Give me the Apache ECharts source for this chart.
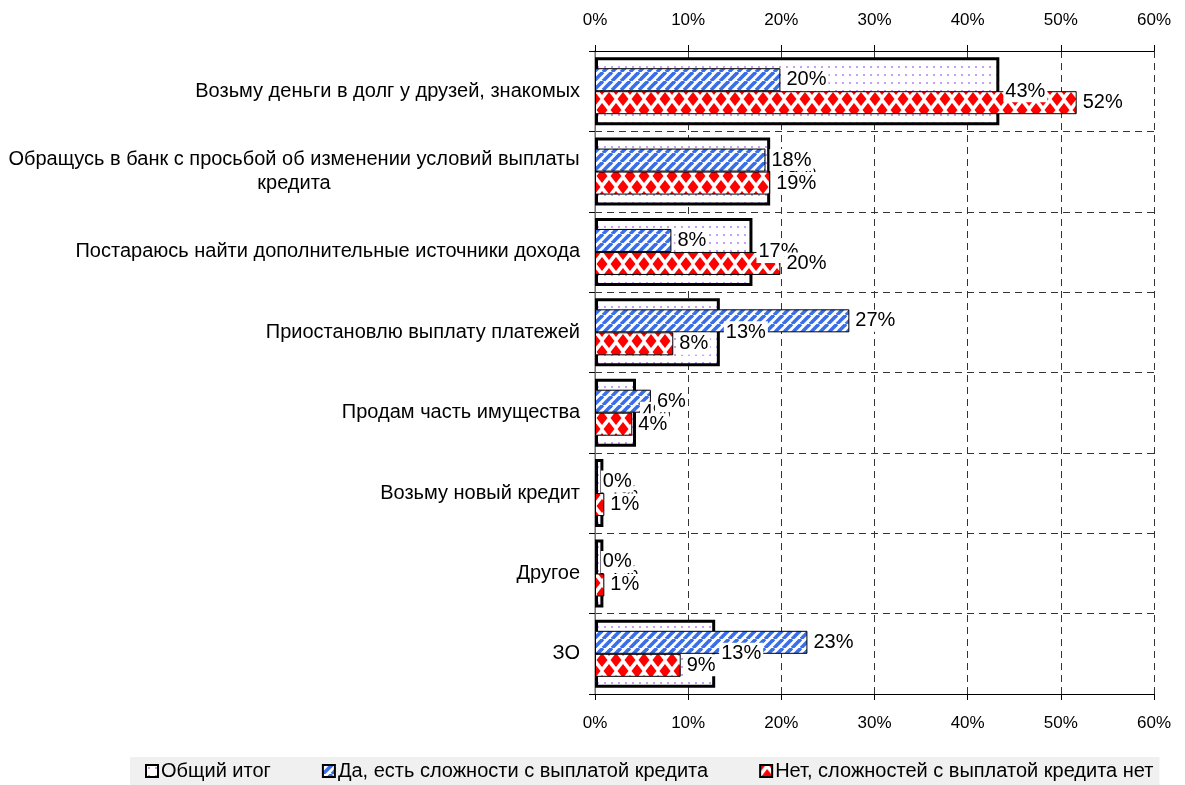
<!DOCTYPE html>
<html><head><meta charset="utf-8">
<script src="https://cdn.jsdelivr.net/npm/echarts@6/dist/echarts.min.js"></script>
<style>html,body{margin:0;padding:0;background:#fff}#c{width:1185px;height:785px}</style>
</head><body><div id="c"></div>
<script>
const categories = [
  'Возьму деньги в долг у друзей, знакомых',
  'Обращусь в банк с просьбой об изменении условий выплаты\nкредита',
  'Постараюсь найти дополнительные источники дохода',
  'Приостановлю выплату платежей',
  'Продам часть имущества',
  'Возьму новый кредит',
  'Другое',
  'ЗО'
];
const seriesNames = ['Общий итог', 'Да, есть сложности с выплатой кредита', 'Нет, сложностей с выплатой кредита нет'];
const totalValues = [43.4, 18.8, 16.9, 13.4, 4.4, 0.9, 0.9, 12.9];
const yesValues   = [19.9, 18.3, 8.2, 27.3, 6.0, 0.2, 0.2, 22.8];
const noValues    = [51.7, 18.8, 19.9, 8.4, 4.0, 1.0, 1.0, 9.2];
const xMin = 0, xMax = 60, xStep = 10;

const FONT = "'Liberation Sans',Arial,sans-serif";

function makePattern(w, h, draw) {
  const c = document.createElement('canvas');
  c.width = w; c.height = h;
  const g = c.getContext('2d');
  draw(g, w, h);
  return { image: c, repeat: 'repeat' };
}
const dotPattern = makePattern(7, 8, (g, w, h) => {
  g.fillStyle = '#ffffff'; g.fillRect(0, 0, w, h);
  g.fillStyle = '#c59ff2';
  g.fillRect(2, 2, 2, 2);
});
const stripePattern = makePattern(9, 9, (g, w, h) => {
  g.fillStyle = '#ffffff'; g.fillRect(0, 0, w, h);
  g.strokeStyle = '#3a6ee8'; g.lineWidth = 3.6;
  for (const o of [-w, 0, w]) {
    g.beginPath(); g.moveTo(o, h); g.lineTo(o + w, 0); g.stroke();
  }
});
const diamondPattern = makePattern(14, 22, (g, w, h) => {
  g.fillStyle = '#ffffff'; g.fillRect(0, 0, w, h);
  g.fillStyle = '#ff0000';
  const rx = 5.5, ry = 7;
  const d = (cx, cy) => { g.beginPath(); g.moveTo(cx, cy - ry); g.lineTo(cx + rx, cy); g.lineTo(cx, cy + ry); g.lineTo(cx - rx, cy); g.closePath(); g.fill(); };
  d(w / 2, h / 2); d(0, 0); d(w, 0); d(0, h); d(w, h);
});

const catFontSize = 20;
const mctx = document.createElement('canvas').getContext('2d');
mctx.font = catFontSize + 'px ' + FONT;
const catRich = { c: { align: 'center', fontSize: catFontSize, fontFamily: FONT, color: '#000', lineHeight: 24, width: 560 } };
function catFormatter(v) {
  if (v.indexOf('\n') < 0) return v;
  const lines = v.split('\n');
  const wMax = Math.max(...lines.map(l => mctx.measureText(l).width));
  catRich.c.width = Math.ceil(wMax);
  return lines.map(l => '{c|' + l + '}').join('\n');
}
categories.forEach(catFormatter);

const pct = p => Math.round(p.value) + '%';
const labelStyle = {
  show: true, position: 'right', distance: 4, formatter: pct,
  color: '#000', fontSize: 20, fontFamily: FONT,
  backgroundColor: '#ffffff', padding: [1, 2, 1, 2]
};

const catAxisBase = { type: 'category', data: categories, inverse: true, boundaryGap: true };

const option = {
  animation: false,
  backgroundColor: '#ffffff',
  textStyle: { fontFamily: FONT },
  grid: { left: 595, right: 31, top: 51, bottom: 91, containLabel: false, outerBoundsMode: 'none' },
  xAxis: [
    { type: 'value', position: 'top', min: xMin, max: xMax, interval: xStep,
      axisLine: { show: true, lineStyle: { color: '#000', width: 1 } },
      axisTick: { show: true, length: 6, lineStyle: { color: '#000' } },
      axisLabel: { formatter: '{value}%', color: '#000', fontSize: 17, fontFamily: FONT, margin: 22 },
      splitLine: { show: true, lineStyle: { color: '#333', type: [7, 5], width: 1 } } },
    { type: 'value', position: 'bottom', min: xMin, max: xMax, interval: xStep,
      axisLine: { show: true, lineStyle: { color: '#000', width: 1 } },
      axisTick: { show: true, length: 6, lineStyle: { color: '#000' } },
      axisLabel: { formatter: '{value}%', color: '#000', fontSize: 17, fontFamily: FONT, margin: 21 },
      splitLine: { show: false } }
  ],
  yAxis: [
    Object.assign({}, catAxisBase, { position: 'left',
      axisLine: { show: true, lineStyle: { color: '#000' } },
      axisTick: { show: true, length: 6, lineStyle: { color: '#000' } },
      axisLabel: { color: '#000', fontSize: catFontSize, fontFamily: FONT, margin: 15, lineHeight: 24, formatter: catFormatter, rich: catRich },
      splitLine: { show: true, lineStyle: { color: '#333', type: [7, 5], width: 1 } } }),
    Object.assign({}, catAxisBase, { position: 'right',
      axisLine: { show: true, lineStyle: { color: '#9a9a9a', width: 1.5 } },
      axisTick: { show: false }, axisLabel: { show: false }, splitLine: { show: false } }),
    Object.assign({}, catAxisBase, { position: 'right', show: false })
  ],
  legend: {
    data: seriesNames,
    left: 130, top: 757,
    padding: [4, 6, 4, 15],
    backgroundColor: '#f0f0f0',
    itemWidth: 12, itemHeight: 12, itemGap: 51,
    icon: 'rect',
    textStyle: { color: '#000', fontSize: 20, fontFamily: FONT, padding: [0, 0, 0, -2] }
  },
  series: [
    { name: seriesNames[0], type: 'bar', xAxisIndex: 0, yAxisIndex: 1, data: totalValues,
      barWidth: 68, barGap: '-100%', z: 1,
      itemStyle: { color: dotPattern, borderColor: '#000', borderWidth: 3 } },
    { name: seriesNames[1], type: 'bar', xAxisIndex: 0, yAxisIndex: 0, data: yesValues,
      barWidth: 23, barGap: 0, z: 2,
      itemStyle: { color: stripePattern, borderColor: '#000', borderWidth: 1 } },
    { name: seriesNames[2], type: 'bar', xAxisIndex: 0, yAxisIndex: 0, data: noValues,
      barWidth: 23, barGap: 0, z: 3,
      itemStyle: { color: diamondPattern, borderColor: '#000', borderWidth: 1 } },
    { name: 'lblTotal', type: 'bar', xAxisIndex: 0, yAxisIndex: 1, data: totalValues,
      barWidth: 68, barGap: '-100%', z: 5, silent: true,
      itemStyle: { color: 'rgba(0,0,0,0)', borderWidth: 0 }, label: labelStyle },
    { name: 'lblYes', type: 'bar', xAxisIndex: 0, yAxisIndex: 2, data: yesValues,
      barWidth: 23, barGap: 0, z: 6, silent: true,
      itemStyle: { color: 'rgba(0,0,0,0)', borderWidth: 0 }, label: labelStyle },
    { name: 'lblNo', type: 'bar', xAxisIndex: 0, yAxisIndex: 2, data: noValues,
      barWidth: 23, barGap: 0, z: 7, silent: true,
      itemStyle: { color: 'rgba(0,0,0,0)', borderWidth: 0 }, label: labelStyle }
  ]
};
const chart = echarts.init(document.getElementById('c'), null, { renderer: 'canvas' });
chart.setOption(option);
</script></body></html>
